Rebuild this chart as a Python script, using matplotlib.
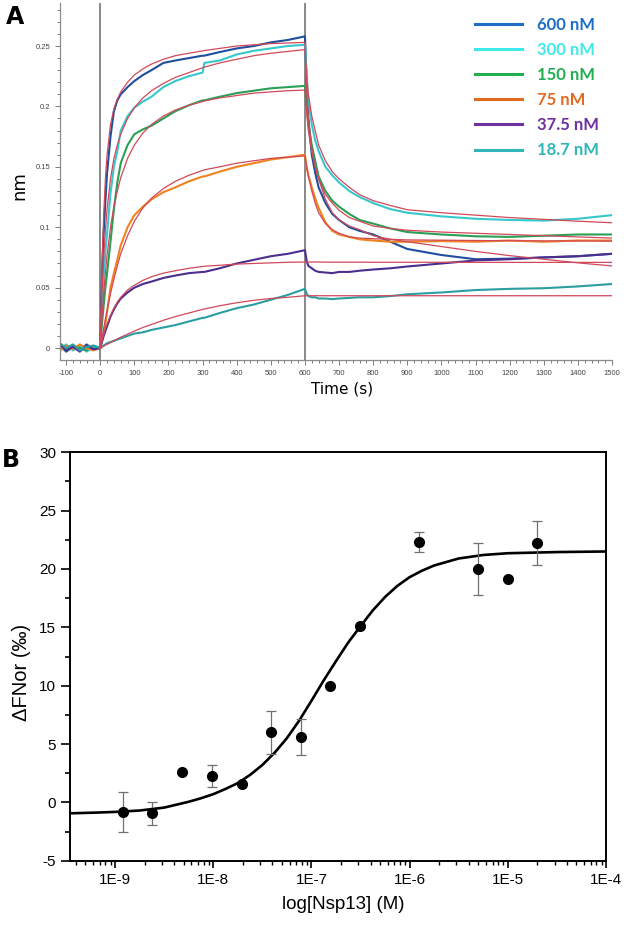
# -*- coding: utf-8 -*-
"""
plot.py  -  BLI sensorgrams (A) and MST binding curve (B)
"""

import matplotlib
matplotlib.use('Agg')
import matplotlib.pyplot as plt
import matplotlib.ticker as mticker
from matplotlib.lines import Line2D
import numpy as np

plt.rcParams['axes.unicode_minus'] = False

######## Panel A data : sensorgrams (nm) ########
timeSec = [-118, -100, -80, -60, -40, -20, 0,
           5, 10, 15, 20, 30, 40, 50, 60, 80, 100, 125, 150, 185, 220, 260,
           300, 305, 350, 400, 450, 500, 550, 600,
           605, 610, 620, 630, 640, 660, 680, 700, 730, 760, 800, 850, 900,
           1000, 1100, 1200, 1300, 1400, 1500]
fitTime = timeSec[6:]          # fits start at t = 0

concLabels = ['600 nM', '300 nM', '150 nM', '75 nM', '37.5 nM', '18.7 nM']

sens600 = [0.002, -0.003, 0.001, -0.002, 0.003, -0.001, 0.0,
           0.060, 0.095, 0.122, 0.145, 0.175, 0.196, 0.205, 0.210, 0.216, 0.221, 0.226, 0.230,
           0.236, 0.238, 0.240, 0.242, 0.242, 0.245, 0.248, 0.250, 0.253, 0.255, 0.258,
           0.220, 0.190, 0.160, 0.145, 0.133, 0.120, 0.111, 0.106, 0.100, 0.097, 0.094, 0.088,
           0.082, 0.077, 0.0735, 0.074, 0.075, 0.076, 0.078]
sens300 = [-0.001, 0.003, -0.002, 0.002, -0.003, 0.001, 0.0,
           0.035, 0.060, 0.080, 0.095, 0.128, 0.150, 0.163, 0.180, 0.192, 0.199, 0.204, 0.208,
           0.216, 0.221, 0.225, 0.228, 0.236, 0.238, 0.243, 0.246, 0.248, 0.250, 0.251,
           0.225, 0.205, 0.185, 0.172, 0.163, 0.150, 0.143, 0.137, 0.130, 0.125, 0.120, 0.115,
           0.112, 0.109, 0.107, 0.106, 0.1055, 0.107, 0.110]
sens150 = [0.001, -0.002, 0.002, 0.0, -0.002, 0.002, 0.0,
           0.020, 0.035, 0.050, 0.062, 0.088, 0.115, 0.137, 0.153, 0.168, 0.177, 0.181, 0.184,
           0.190, 0.196, 0.201, 0.205, 0.205, 0.208, 0.211, 0.213, 0.215, 0.216, 0.217,
           0.200, 0.185, 0.168, 0.155, 0.142, 0.130, 0.122, 0.117, 0.111, 0.106, 0.103, 0.099,
           0.096, 0.094, 0.0925, 0.092, 0.093, 0.094, 0.094]
sens75 = [-0.002, 0.002, -0.001, 0.003, 0.0, -0.002, 0.0,
          0.006, 0.012, 0.020, 0.030, 0.050, 0.062, 0.073, 0.085, 0.100, 0.110, 0.117, 0.123,
          0.129, 0.133, 0.138, 0.142, 0.142, 0.146, 0.150, 0.153, 0.156, 0.158, 0.160,
          0.150, 0.143, 0.133, 0.124, 0.116, 0.104, 0.097, 0.094, 0.092, 0.090, 0.089, 0.088,
          0.088, 0.0885, 0.088, 0.089, 0.088, 0.089, 0.089]
sens37 = [0.003, -0.002, 0.001, -0.003, 0.002, -0.001, 0.0,
          0.005, 0.010, 0.014, 0.018, 0.026, 0.032, 0.037, 0.041, 0.046, 0.050, 0.053, 0.055,
          0.058, 0.060, 0.062, 0.063, 0.063, 0.066, 0.070, 0.073, 0.076, 0.078, 0.081,
          0.072, 0.068, 0.066, 0.064, 0.063, 0.0625, 0.062, 0.063, 0.063, 0.064, 0.065, 0.066,
          0.0675, 0.070, 0.0725, 0.0735, 0.075, 0.076, 0.078]
sens18 = [0.004, 0.000, 0.003, -0.002, 0.001, 0.002, 0.0,
          0.001, 0.002, 0.003, 0.004, 0.005, 0.006, 0.007, 0.008, 0.010, 0.012, 0.013, 0.015,
          0.017, 0.019, 0.022, 0.025, 0.025, 0.029, 0.033, 0.036, 0.040, 0.044, 0.049,
          0.045, 0.043, 0.042, 0.042, 0.041, 0.041, 0.0405, 0.041, 0.0415, 0.042, 0.042, 0.043,
          0.0445, 0.046, 0.048, 0.049, 0.0495, 0.051, 0.053]

fit600 = [0.0,
          0.070, 0.110, 0.140, 0.160, 0.185, 0.198, 0.206, 0.212, 0.220, 0.226, 0.231, 0.235,
          0.239, 0.242, 0.244, 0.246, 0.2462, 0.248, 0.250, 0.251, 0.252, 0.2525, 0.253,
          0.215, 0.190, 0.165, 0.150, 0.140, 0.123, 0.112, 0.106, 0.101, 0.098, 0.093, 0.090,
          0.088, 0.084, 0.080, 0.0765, 0.0735, 0.0705, 0.068]
fit300 = [0.0,
          0.045, 0.075, 0.098, 0.115, 0.140, 0.157, 0.168, 0.177, 0.190, 0.199, 0.207, 0.213,
          0.219, 0.224, 0.228, 0.232, 0.2325, 0.236, 0.239, 0.242, 0.244, 0.2455, 0.247,
          0.225, 0.210, 0.192, 0.180, 0.168, 0.155, 0.146, 0.140, 0.133, 0.127, 0.122, 0.118,
          0.1145, 0.112, 0.110, 0.108, 0.1065, 0.105, 0.1037]
fit150 = [0.0,
          0.025, 0.045, 0.062, 0.077, 0.100, 0.117, 0.130, 0.141, 0.157, 0.168, 0.178, 0.185,
          0.192, 0.197, 0.201, 0.204, 0.2045, 0.207, 0.209, 0.211, 0.212, 0.213, 0.2135,
          0.195, 0.180, 0.162, 0.150, 0.140, 0.127, 0.120, 0.114, 0.108, 0.105, 0.101, 0.099,
          0.0975, 0.096, 0.095, 0.094, 0.093, 0.092, 0.091]
fit75 = [0.0,
         0.008, 0.016, 0.024, 0.031, 0.045, 0.057, 0.068, 0.078, 0.093, 0.105, 0.116, 0.124,
         0.132, 0.138, 0.143, 0.147, 0.1475, 0.150, 0.153, 0.155, 0.157, 0.158, 0.159,
         0.150, 0.142, 0.130, 0.120, 0.112, 0.103, 0.098, 0.095, 0.092, 0.091, 0.0905, 0.090,
         0.0895, 0.0893, 0.089, 0.0888, 0.0887, 0.0886, 0.0885]
fit37 = [0.0,
         0.006, 0.011, 0.016, 0.020, 0.027, 0.033, 0.038, 0.042, 0.048, 0.052, 0.056, 0.059,
         0.062, 0.064, 0.066, 0.0675, 0.0677, 0.0685, 0.0695, 0.070, 0.0705, 0.071, 0.0712,
         0.0712, 0.0712, 0.0712, 0.0712, 0.0712, 0.0711, 0.0711, 0.0711, 0.0711, 0.0711,
         0.0710, 0.0710, 0.0710, 0.0710, 0.0709, 0.0709, 0.0709, 0.0709, 0.0709]
fit18 = [0.0,
         0.0008, 0.0016, 0.0025, 0.003, 0.0045, 0.006, 0.0075, 0.009, 0.0115, 0.014, 0.017,
         0.0195, 0.023, 0.026, 0.029, 0.032, 0.0323, 0.035, 0.0375, 0.0395, 0.041, 0.042, 0.0433,
         0.0433, 0.0433, 0.0433, 0.0433, 0.0433, 0.0433, 0.0433, 0.0433, 0.0433, 0.0433,
         0.0433, 0.0433, 0.0433, 0.0433, 0.0433, 0.0433, 0.0433, 0.0433, 0.0433]

sensList = [sens600, sens300, sens150, sens75, sens37, sens18]
fitList = [fit600, fit300, fit150, fit75, fit37, fit18]

traceColors  = ['#1f4e9e', '#36c8cc', '#2a9f55', '#f0821e', '#4b2e8f', '#2a9ea0']
legendColors = ['#1e6ec8', '#3eeaea', '#20b050', '#e06a20', '#7030a0', '#30b6b6']
fitColor = '#d2485a'

######## Panel B data : MST dose response ########
nspConc = [1.2e-9, 2.4e-9, 4.8e-9, 9.7e-9, 1.95e-8, 3.9e-8, 7.8e-8,
           1.56e-7, 3.1e-7, 1.25e-6, 5.0e-6, 1.0e-5, 2.0e-5]
dFnorm  = [-0.8, -0.95, 2.6, 2.25, 1.6, 6.0, 5.6, 10.0, 15.1, 22.3, 20.0, 19.1, 22.2]
dFerr   = [1.7, 1.0, 0.0, 0.95, 0.0, 1.85, 1.55, 0.0, 0.0, 0.86, 2.2, 0.0, 1.9]

# fitted curve, read as log10(conc) / value pairs
fitLogConc = [-9.46, -9.2, -9.0, -8.75, -8.5, -8.25, -8.125, -8.0, -7.875, -7.75,
              -7.625, -7.5, -7.375, -7.25, -7.125, -7.0, -6.875, -6.75, -6.625, -6.5,
              -6.375, -6.25, -6.125, -6.0, -5.875, -5.75, -5.625, -5.5, -5.25, -5.0,
              -4.5, -4.0]
fitDF = [-0.94, -0.88, -0.82, -0.7, -0.45, 0.05, 0.35, 0.7, 1.15, 1.65,
         2.35, 3.2, 4.25, 5.5, 7.0, 8.7, 10.45, 12.1, 13.7, 15.1,
         16.45, 17.6, 18.55, 19.3, 19.85, 20.3, 20.6, 20.9, 21.2, 21.35,
         21.45, 21.5]

majorConc = [1e-9, 1e-8, 1e-7, 1e-6, 1e-5, 1e-4]

####### Figure ########
figW, figH = 627., 925.
fig = plt.figure(figsize=(figW/100, figH/100), dpi=100)

#### Panel A axes ####
axA = fig.add_axes([60/figW, 1-360/figH, 552/figW, 357/figH])
for vals, col in zip(sensList, traceColors):
    axA.plot(timeSec, vals, color=col, lw=1.5, zorder=2)
for vals in fitList:
    axA.plot(fitTime, vals, color=fitColor, lw=0.9, zorder=3)
axA.axvline(0, color='#808080', lw=1.3, zorder=1)
axA.axvline(600, color='#808080', lw=1.3, zorder=1)

axA.set_xlim(-118, 1500)
axA.set_ylim(-0.0099, 0.2856)
axA.spines['top'].set_visible(False)
axA.spines['right'].set_visible(False)
for side in ['left', 'bottom']:
    axA.spines[side].set_color('#8c8c8c')
    axA.spines[side].set_linewidth(0.9)
axA.xaxis.set_major_locator(mticker.MultipleLocator(100))
axA.xaxis.set_minor_locator(mticker.MultipleLocator(20))
axA.yaxis.set_major_locator(mticker.MultipleLocator(0.05))
axA.yaxis.set_minor_locator(mticker.MultipleLocator(0.01))
axA.yaxis.set_major_formatter(mticker.FuncFormatter(lambda v, p: '%g' % round(v, 3)))
axA.tick_params(which='both', colors='#7a7a7a', labelcolor='#444444', labelsize=5.5, width=0.7)
axA.tick_params(which='major', length=3.5)
axA.tick_params(which='minor', length=2)
for lab in axA.get_xticklabels() + axA.get_yticklabels():
    lab.set_family('Liberation Sans')

axA.set_xlabel('Time (s)', fontsize=11)
axA.xaxis.set_label_coords(0.511, -0.06)
axA.set_ylabel('nm', fontsize=13)
axA.yaxis.set_label_coords(-0.058, 0.49)

handles = [Line2D([], [], color=c, lw=2.2) for c in legendColors]
leg = axA.legend(handles, concLabels, loc='upper left', bbox_to_anchor=(0.752, 0.962),
                 frameon=False, prop={'family': 'Lato', 'weight': 'bold', 'size': 12},
                 handlelength=2.8, handletextpad=0.9, labelspacing=0.55,
                 borderpad=0, borderaxespad=0)
for txt, c in zip(leg.get_texts(), legendColors):
    txt.set_color(c)

#### Panel B axes ####
axB = fig.add_axes([70/figW, 1-860.7/figH, 536/figW, 408.4/figH])
axB.set_xscale('log')
axB.plot(10**np.array(fitLogConc), fitDF, color='k', lw=1.9, zorder=2)
hasErr = [i for i, e in enumerate(dFerr) if e > 0]
axB.errorbar([nspConc[i] for i in hasErr], [dFnorm[i] for i in hasErr],
             yerr=[dFerr[i] for i in hasErr], fmt='none', ecolor='#707070',
             elinewidth=0.9, capsize=3.6, capthick=0.9, zorder=3)
axB.plot(nspConc, dFnorm, 'o', color='k', ms=7, zorder=4)

axB.set_xlim(3.48e-10, 1e-4)
axB.set_ylim(-5, 30)
for side in axB.spines:
    axB.spines[side].set_linewidth(1.4)
axB.yaxis.set_major_locator(mticker.MultipleLocator(5))
axB.yaxis.set_minor_locator(mticker.MultipleLocator(2.5))
axB.xaxis.set_major_locator(mticker.FixedLocator(majorConc))
axB.xaxis.set_minor_locator(mticker.LogLocator(base=10, subs=np.arange(2, 10), numticks=20))
axB.xaxis.set_major_formatter(mticker.FuncFormatter(
    lambda v, p: '1E%d' % int(np.round(np.log10(v)))))
axB.xaxis.set_minor_formatter(mticker.NullFormatter())
axB.tick_params(axis='y', which='major', length=6.5, width=1.2, labelsize=11)
axB.tick_params(axis='y', which='minor', length=3.5, width=1.2)
axB.tick_params(axis='x', which='major', length=5, width=1.2, labelsize=11, pad=4)
axB.tick_params(axis='x', which='minor', length=3, width=1.0)
for lab in axB.get_xticklabels() + axB.get_yticklabels():
    lab.set_family('Liberation Sans')

axB.set_xlabel('log[Nsp13] (M)', fontsize=13.5, family=['Liberation Sans', 'DejaVu Sans'])
axB.xaxis.set_label_coords(0.51, -0.086)
axB.set_ylabel('\u0394FNor (\u2030)', fontsize=14.5, family=['Liberation Sans', 'DejaVu Sans'])
axB.yaxis.set_label_coords(-0.072, 0.46)

#### Panel letters ####
fig.text(15/figW, 1-17/figH, 'A', fontsize=17, weight='bold', ha='center', va='center')
fig.text(11/figW, 1-460/figH, 'B', fontsize=17, weight='bold', ha='center', va='center')

fig.savefig('out.png', dpi=100)
